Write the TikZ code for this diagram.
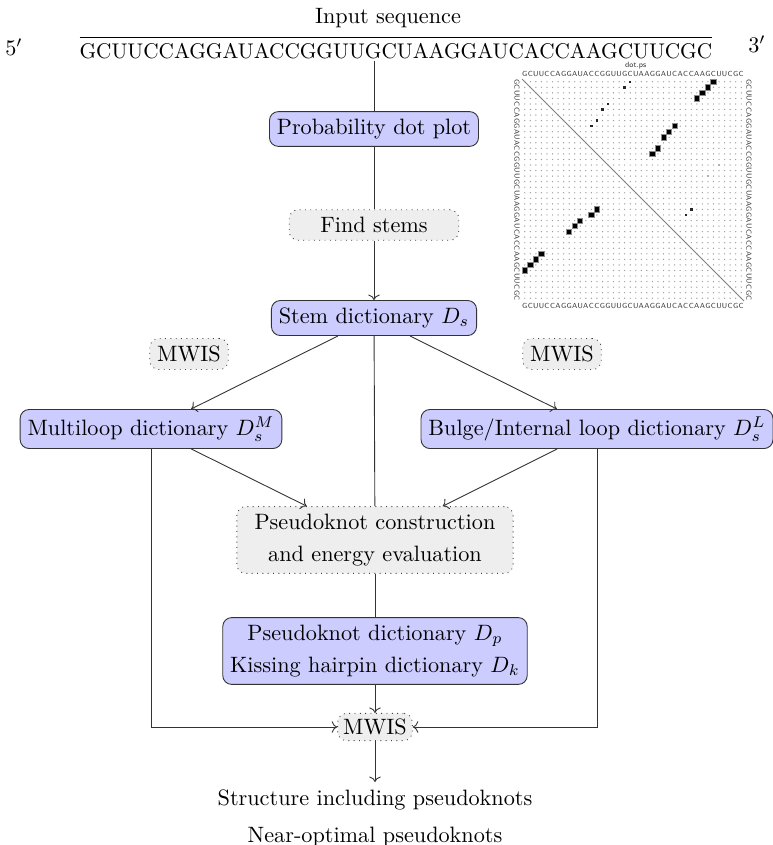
\documentclass[tikz,border=0pt]{standalone}
\usepackage{amsmath,amssymb}
\usepackage{xcolor,tikz}
\usetikzlibrary{arrows.meta,positioning,calc}
\definecolor{dictfill}{HTML}{CCCCFF}
\definecolor{opfill}{HTML}{EEEEEE}
\newcommand{\rnaseq}{G,C,U,U,C,C,A,G,G,A,U,A,C,C,G,G,U,U,G,C,U,A,A,G,G,A,U,C,A,C,C,A,A,G,C,U,U,C,G,C}

\begin{document}
\begin{tikzpicture}[x=0.45pt,y=-0.45pt,
  dictbox/.style={draw=black!80,fill=dictfill,rounded corners=4pt},
  opbox/.style={draw=black!75,dotted,fill=opfill,rounded corners=4pt},
  seqchar/.style={font=\fontsize{3.3}{3.3}\selectfont\sffamily,inner sep=0pt,text=black!80}]
\useasboundingbox (0,0) rectangle (773,845);

% input sequence
\node (title) at (388,18) {Input sequence};
\node[inner ysep=1pt] (seq) at (396,47) {\scalebox{0.955}{$\overline{\rule{0pt}{8.6pt}\mathrm{GCUUCCAGGAUACCGGUUGCUAAGGAUCACCAAGCUUCGC}}$}};
\node (five) at (14,47) {$5'$};
\node (three) at (757,44) {$3'$};

% dot plot
\begin{scope}[shift={(522,79)},x=2.4975pt,y=-2.4975pt]
\foreach \r in {1,...,40}
  \foreach \c in {1,...,40}
    \fill[black!38] (\c-0.5,\r-0.5) circle (0.32pt);
\draw[black!50,line width=0.4pt] (0,0) -- (40,40);
\foreach \i/\j in {1/35,2/34,3/33,4/32,9/28,10/27,11/26,13/25,14/24} {
  \filldraw[fill=black,draw=black!45,line width=0.35pt] (\j-0.97,\i-0.97) rectangle (\j-0.03,\i-0.03);
  \filldraw[fill=black,draw=black!45,line width=0.35pt] (\i-0.97,\j-0.97) rectangle (\i-0.03,\j-0.03);
}
\foreach \i/\j in {1/20,2/19,5/16,6/15,8/14,9/13,24/31,25/30}
  \fill[black!85] (\j-0.72,\i-0.72) rectangle (\j-0.28,\i-0.28);
\foreach \i/\j in {13/39,15/37,16/36,17/35,18/34,19/33,21/32}
  \fill[black!30] (\j-0.62,\i-0.62) rectangle (\j-0.38,\i-0.38);
\foreach \b [count=\i] in \rnaseq {
  \node[seqchar] (top\i) at (\i-0.5,-0.9) {\b};
  \node[seqchar] (bot\i) at (\i-0.5,40.9) {\b};
  \node[seqchar,rotate=-90] (lft\i) at (-0.9,\i-0.5) {\b};
  \node[seqchar,rotate=-90] (rgt\i) at (40.9,\i-0.5) {\b};
}
\node[font=\fontsize{3.5}{3.5}\selectfont\sffamily,text=black!80,inner sep=0pt] (psname) at (20.5,-2.4) {dot.ps};
\end{scope}

% flow
\node[dictbox] (prob) at (374,129) {Probability dot plot};
\node[opbox,inner xsep=14pt] (find) at (374,225) {Find stems};
\node[dictbox] (stem) at (374,318) {Stem dictionary $D_s$};
\node[opbox] (mwisL) at (189,354) {MWIS};
\node[opbox] (mwisR) at (562,354) {MWIS};
\node[dictbox] (multi) at (151,429) {Multiloop dictionary $D_s^M$};
\node[dictbox] (bulge) at (597,429) {Bulge/Internal loop dictionary $D_s^L$};
\node[opbox,align=center,inner xsep=8pt] (pkc) at (375,540) {Pseudoknot construction\\[2.4pt] and energy evaluation};
\node[dictbox,align=center] (pkd) at (375,651) {Pseudoknot dictionary $D_p$\\[2.4pt] Kissing hairpin dictionary $D_k$};
\node[opbox,inner sep=2.5pt] (mwis) at (375,727) {MWIS};
\node (res) at (375,800) {Structure including pseudoknots};
\node (near) at (375,837) {Near-optimal pseudoknots};

\draw[black!80] (seq.south -| prob) -- (prob);
\draw[black!80] (prob) -- (find);
\draw[black!80,->] (find) -- (stem);
\draw[black!80,->] (stem) -- (multi);
\draw[black!80,->] (stem) -- (bulge);
\draw[black!80] (stem) -- (pkc);
\draw[black!80,->] (multi) -- (pkc);
\draw[black!80,->] (bulge) -- (pkc);
\draw[black!80] (pkc) -- (pkd);
\draw[black!80,->] (pkd) -- (mwis);
\draw[black!80,->] (multi) |- (mwis);
\draw[black!80,->] (bulge) |- (mwis);
\draw[black!80,->] (mwis) -- (res);
\end{tikzpicture}
\end{document}
